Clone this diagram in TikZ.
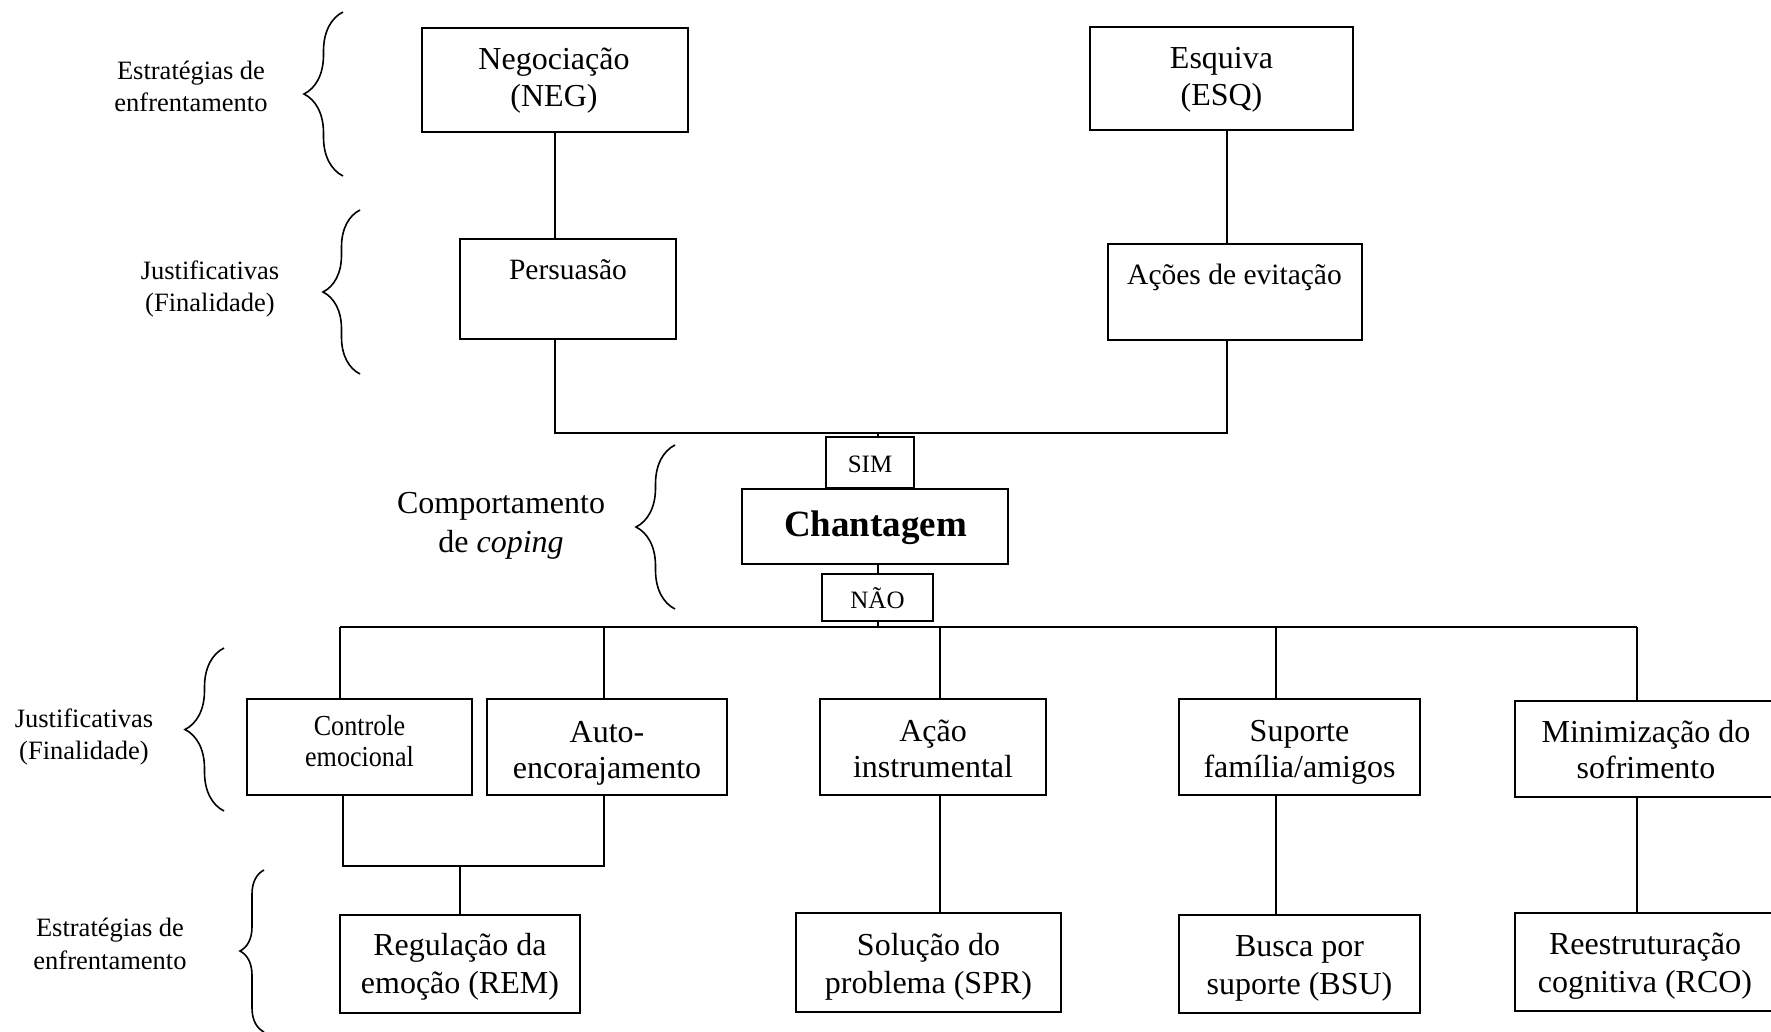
\documentclass[tikz,border=0pt]{standalone}
\usepackage{fontspec}
\setmainfont{Liberation Serif}
\newfontfamily\narrowserif[FakeStretch=0.9]{Liberation Serif}
\usetikzlibrary{decorations.pathreplacing}

% two centred lines whose baseline is the baseline of the first line
\newcommand\twolines[2]{\begin{tabular}[t]{@{}c@{}}#1\\#2\end{tabular}}

\begin{document}
\begin{tikzpicture}[x=1pt,y=-1pt,
  box/.style={draw, line width=2pt, inner sep=0pt},
  wire/.style={line width=1.5pt},
  bigtxt/.style={anchor=base, inner sep=0pt, font=\fontsize{32}{37.5}\selectfont},
  rowtxt/.style={anchor=base, inner sep=0pt, font=\fontsize{32}{36.5}\selectfont},
  lowtxt/.style={anchor=base, inner sep=0pt, font=\fontsize{32}{38.5}\selectfont},
  justtxt/.style={anchor=base, inner sep=0pt, font=\fontsize{29.5}{34}\selectfont},
  midtxt/.style={anchor=base, inner sep=0pt, font=\fontsize{32}{39.5}\selectfont},
  smalltxt/.style={anchor=base, inner sep=0pt, font=\fontsize{26.5}{32}\selectfont},
  tagtxt/.style={anchor=base, inner sep=0pt, font=\fontsize{25}{30}\selectfont},
  curly/.style={decorate, decoration={brace, amplitude=#1}, line width=1.6pt},
]
\useasboundingbox (0,0) rectangle (1771,1031);

% ---------- boxes ----------
\node[box, minimum width=266pt, minimum height=104pt] (neg)   at (555,80)    {};
\node[box, minimum width=263pt, minimum height=103pt] (esq)   at (1221.5,78.5) {};
\node[box, minimum width=216pt, minimum height=100pt] (pers)  at (568,289)   {};
\node[box, minimum width=254pt, minimum height=96pt]  (acoes) at (1235,292)  {};
\node[box, minimum width=88pt,  minimum height=51pt]  (sim)   at (870,462.5) {};
\node[box, minimum width=266pt, minimum height=75pt]  (chant) at (875,526.5) {};
\node[box, minimum width=111pt, minimum height=47pt]  (nao)   at (877.5,597.5) {};
\node[box, minimum width=225pt, minimum height=96pt]  (ctrl)  at (359.5,747) {};
\node[box, minimum width=240pt, minimum height=96pt]  (auto)  at (607,747)   {};
\node[box, minimum width=226pt, minimum height=96pt]  (acao)  at (933,747)   {};
\node[box, minimum width=241pt, minimum height=96pt]  (sup)   at (1299.5,747) {};
\node[box, minimum width=258pt, minimum height=96pt]  (mini)  at (1644,749)  {};
\node[box, minimum width=240pt, minimum height=98pt]  (rem)   at (460,964)   {};
\node[box, minimum width=265pt, minimum height=99pt]  (spr)   at (928.5,962.5) {};
\node[box, minimum width=241pt, minimum height=98pt]  (bsu)   at (1299.5,964) {};
\node[box, minimum width=258pt, minimum height=98pt]  (rco)   at (1644,962)  {};

% ---------- box texts ----------
\node[bigtxt]  (negt)   at (554,69)     {\twolines{Negociação}{(NEG)}};
\node[bigtxt]  (esqt)   at (1221.5,68)  {\twolines{Esquiva}{(ESQ)}};
\node[justtxt] (perst)  at (568,279)    {Persuasão};
\node[justtxt] (acoest) at (1234.5,284) {Ações de evitação};
\node[tagtxt]  (simt)   at (870,472)    {SIM};
\node[anchor=base, inner sep=0pt, font=\fontsize{37}{40}\selectfont\bfseries] (chantt) at (875.5,536) {Chantagem};
\node[tagtxt]  (naot)   at (877.5,608)  {NÃO};
\node[anchor=base, inner sep=0pt, font=\fontsize{29}{31}\selectfont\narrowserif] (ctrlt) at (359.5,735) {\twolines{Controle}{emocional}};
\node[rowtxt]  (autot)  at (607,742)    {\twolines{Auto-}{encorajamento}};
\node[rowtxt]  (acaot)  at (933,741)    {\twolines{Ação}{instrumental}};
\node[rowtxt]  (supt)   at (1299.5,741) {\twolines{Suporte}{família/amigos}};
\node[rowtxt]  (minit)  at (1646,742)   {\twolines{Minimização do}{sofrimento}};
\node[lowtxt]  (remt)   at (460,955)    {\twolines{Regulação da}{emoção (REM)}};
\node[lowtxt]  (sprt)   at (928.5,955)  {\twolines{Solução do}{problema (SPR)}};
\node[lowtxt]  (bsut)   at (1299.5,956) {\twolines{Busca por}{suporte (BSU)}};
\node[lowtxt]  (rcot)   at (1645,954)   {\twolines{Reestruturação}{cognitiva (RCO)}};

% ---------- level labels and braces ----------
\node[smalltxt] (lab1) at (191,79)  {\twolines{Estratégias de}{enfrentamento}};
\node[smalltxt] (lab2) at (210,279) {\twolines{Justificativas}{(Finalidade)}};
\node[midtxt]   (lab3) at (501,513) {\twolines{Comportamento}{de \textit{coping}}};
\node[smalltxt] (lab4) at (84,727)  {\twolines{Justificativas}{(Finalidade)}};
\node[anchor=base, inner sep=0pt, font=\fontsize{26.5}{33.5}\selectfont] (lab5) at (110,936) {\twolines{Estratégias de}{enfrentamento}};

\draw[curly=39] (343,176)  -- (343,12);
\draw[curly=37] (360,374)  -- (360,210);
\draw[curly=39] (675,609)  -- (675,445);
\draw[curly=39] (224,811)  -- (224,648);
\draw[curly=24] (264,1032) -- (264,870);

% ---------- upper tree ----------
\coordinate (jl) at (555,433);
\coordinate (jr) at (1227,433);
\coordinate (cx) at (878,627);
\draw[wire] (neg.south) -- (neg.south |- pers.north);
\draw[wire] (jr |- esq.south) -- (jr |- acoes.north);
\draw[wire] (jl |- pers.south) -- (jl) -- (jr) -- (jr |- acoes.south);
\draw[wire] (cx |- jl) -- (cx |- sim.north);
\draw[wire] (cx |- chant.south) -- (cx |- nao.north);
\draw[wire] (cx |- nao.south) -- (cx);

% ---------- lower tree ----------
\coordinate (t1) at (340,627);
\coordinate (t2) at (604,627);
\coordinate (t3) at (940,627);
\coordinate (t4) at (1276,627);
\coordinate (t5) at (1637,627);
\draw[wire] (t1) -- (t5);
\draw[wire] (t1) -- (t1 |- ctrl.north);
\draw[wire] (t2) -- (t2 |- auto.north);
\draw[wire] (t3) -- (t3 |- acao.north);
\draw[wire] (t4) -- (t4 |- sup.north);
\draw[wire] (t5) -- (t5 |- mini.north);

\coordinate (c1) at (343,866);
\coordinate (c2) at (604,866);
\coordinate (cm) at (460,866);
\draw[wire] (c1 |- ctrl.south) -- (c1) -- (c2) -- (c2 |- auto.south);
\draw[wire] (cm) -- (rem.north);
\draw[wire] (t3 |- acao.south) -- (t3 |- spr.north);
\draw[wire] (t4 |- sup.south) -- (t4 |- bsu.north);
\draw[wire] (t5 |- mini.south) -- (t5 |- rco.north);
\end{tikzpicture}
\end{document}
